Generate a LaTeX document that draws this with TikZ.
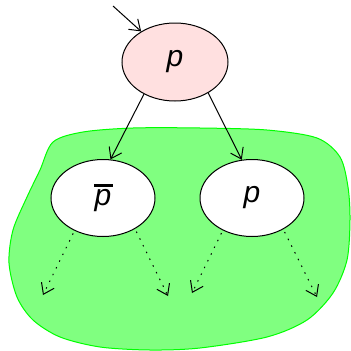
\documentclass[tikz,border=0pt]{standalone}
\usepackage{fontspec}
\setmainfont{Liberation Sans}
\usetikzlibrary{shapes.geometric, arrows.meta, positioning}
\definecolor{rootpink}{HTML}{FFE0E0}
\definecolor{blobfill}{HTML}{80FF80}
\definecolor{blobline}{HTML}{00FF00}
\newcommand{\barp}{\makebox[0pt][l]{\hspace{-0.02em}\raisebox{0.62em}{\rule{0.62em}{0.11em}}}p}
\tikzset{
  state/.style={ellipse, draw, line width=1pt, fill=white, minimum width=104pt,
    minimum height=77pt, inner sep=0pt, font=\fontsize{30}{36}\selectfont\itshape},
  rootstate/.style={state, fill=rootpink, minimum width=106pt, minimum height=78pt},
  arr/.style={-{Straight Barb[length=10pt, width=14pt]}, line width=1pt},
  dotarr/.style={arr, dash pattern=on 1.5pt off 6pt, shorten <=3pt},
  region/.style={draw=blobline, fill=blobfill, line width=1pt},
}
\begin{document}
\begin{tikzpicture}[x=1pt, y=-1pt]
  \useasboundingbox (0,0) rectangle (351,351);
  % shaded region
  \draw[region] plot[smooth cycle, tension=0.5] coordinates {
    (53,142) (83,132) (133,128) (200,128) (267,130) (317,138) (340,157)
    (348,187) (350,220) (347,260) (333,293) (307,320) (267,337) (200,348)
    (150,350) (100,347) (60,337) (33,320) (17,297) (9,263) (13,230)
    (27,197) (40,170)};

  % nodes
  \node[rootstate] (root) at (175,62) {p};
  \node[state] (neg) at (103,198) {\barp};
  \node[state] (pos) at (252,198) {p};

  % free ends
  \coordinate (init) at (113,6);
  \coordinate (negl) at (43,295);
  \coordinate (negr) at (168,296);
  \coordinate (posl) at (192,293);
  \coordinate (posr) at (317,297);

  % connections
  \draw[arr] (init) -- (root);
  \draw[arr] (root.226) -- (neg.79);
  \draw[arr] (root.317) -- (pos.105);

  \draw[dotarr] (neg.229) -- (negl);
  \draw[dotarr] (neg.316) -- (negr);
  \draw[dotarr] (pos.228) -- (posl);
  \draw[dotarr] (pos.315) -- (posr);
\end{tikzpicture}
\end{document}
